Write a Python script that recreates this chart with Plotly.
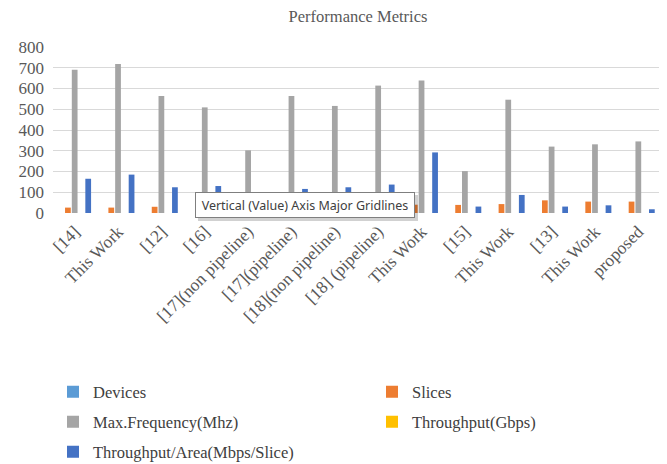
import plotly.graph_objects as go

categories = ["[14]", "This Work", "[12]", "[16]", "[17](non pipeline)", "[17](pipeline)",
              "[18](non pipeline)", "[18] (pipeline)", "This Work", "[15]", "This Work",
              "[13]", "This Work", "proposed"]
devices = [0, 0, 0, 0, 0, 0, 0, 0, 0, 0, 0, 0, 0, 0]
slices = [26, 26, 30, 35, 30, 35, 40, 40, 40, 39, 43, 61, 55, 55]
max_freq = [690, 718, 564, 509, 302, 564, 516, 614, 639, 202, 546, 320, 331, 345]
throughput = [0, 0, 0, 0, 0, 0, 0, 0, 0, 0, 0, 0, 0, 0]
thr_area = [165, 185, 124, 130, 70, 116, 124, 137, 292, 31, 87, 31, 37, 18]
y_ticks = [0, 100, 200, 300, 400, 500, 600, 700, 800]

x = list(range(len(categories)))
serif = "Liberation Serif, Times New Roman, serif"

OFF = 8  # page body margin
W, H = 667 - OFF, 464 - OFF
# target plot box in screen pixels
L, R, T, B = 53, 660, 47, 213
ml, mr, mt, mb = L - OFF, W - (R - OFF), T - OFF, H - (B - OFF)
pw = W - ml - mr
ph = H - mt - mb

def px(xs):
    return (xs - OFF - ml) / pw

def py(ys):
    return (H - mb - (ys - OFF)) / ph

# name, values, colour, legend id, legend text-start x (screen px), legend row y (screen px)
series = [
    ("Devices", devices, "#5B9BD5", "legend", 93, 392),
    ("Slices", slices, "#ED7D31", "legend2", 412, 392),
    ("Max.Frequency(Mhz)", max_freq, "#A5A5A5", "legend3", 93, 422),
    ("Throughput(Gbps)", throughput, "#FFC000", "legend4", 412, 422),
    ("Throughput/Area(Mbps/Slice)", thr_area, "#4472C4", "legend5", 93, 452),
]

fig = go.Figure()
legends = {}
for name, vals, col, lg, lx, ly in series:
    fig.add_trace(go.Bar(x=x, y=vals, name=name, marker_color=col, legend=lg,
                         marker_line_width=0))
    legends[lg] = dict(orientation="h", xanchor="left", yanchor="middle",
                       x=px(lx - 40), y=py(ly),
                       font=dict(family=serif, size=16.5, color="#404040"),
                       bgcolor="rgba(0,0,0,0)", itemclick=False)

fig.update_layout(
    width=W, height=H,
    margin=dict(l=ml, r=mr, t=mt, b=mb, autoexpand=False),
    paper_bgcolor="white", plot_bgcolor="white",
    title=dict(text="Performance Metrics", x=(358 - OFF) / W, xanchor="center",
               y=1, yanchor="top", pad=dict(t=2, b=0),
               font=dict(family=serif, size=16.5, color="#595959")),
    barmode="group", bargap=0.22, bargroupgap=0.15,
    xaxis=dict(range=[-0.5, len(categories) - 0.5], tickvals=x, ticktext=categories,
               tickangle=-45, showgrid=False, zeroline=False, showline=False,
               ticks="", automargin=False, ticklabelstandoff=4,
               tickfont=dict(family=serif, size=17.5, color="#595959")),
    yaxis=dict(range=[0, 800], tickvals=y_ticks, showgrid=True, gridcolor="#D9D9D9",
               gridwidth=1, zeroline=False, showline=False, ticks="", automargin=False,
               ticklabelstandoff=8,
               tickfont=dict(family=serif, size=17, color="#595959")),
    showlegend=True,
    **legends,
)

# tooltip-like box present in the reference
fig.add_shape(type="rect", xref="paper", yref="paper",
              x0=px(198), x1=px(418), y0=py(221), y1=py(195),
              fillcolor="rgba(0,0,0,0.18)", line_width=0, layer="above")
fig.add_annotation(text="Vertical (Value) Axis Major Gridlines", xref="paper", yref="paper",
                   x=px(304.5), y=py(205), xanchor="center", yanchor="middle",
                   showarrow=False, width=214, height=20, borderpad=2,
                   bgcolor="white", bordercolor="#7F7F7F", borderwidth=1,
                   font=dict(family="Noto Sans, Open Sans, sans-serif", size=12.5, color="#404040"))

fig.write_html("out.html")
